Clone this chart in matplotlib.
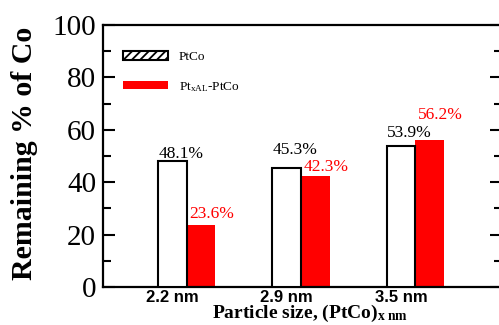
import matplotlib
matplotlib.use("Agg")
import matplotlib.pyplot as plt
from matplotlib.patches import Patch
import numpy as np

categories = ["2.2 nm", "2.9 nm", "3.5 nm"]
ptco = [48.1, 45.3, 53.9]
ptxal = [23.6, 42.3, 56.2]
ptco_labels = ["48.1%", "45.3%", "53.9%"]
ptxal_labels = ["23.6%", "42.3%", "56.2%"]
ptco_off = [1.1, 5.3, 3.4]
ptxal_off = [2.7, 1.9, 8.0]

plt.rcParams["font.family"] = ["Liberation Serif", "DejaVu Serif"]
plt.rcParams["mathtext.fontset"] = "custom"
plt.rcParams["mathtext.rm"] = "Liberation Serif"
plt.rcParams["mathtext.bf"] = "Liberation Serif:bold"
plt.rcParams["mathtext.it"] = "Liberation Serif:italic"
plt.rcParams["hatch.linewidth"] = 1.3

fig = plt.figure(figsize=(4.99, 3.25), dpi=100)
ax = fig.add_axes([103/499, 38/325, 399/499, 262/325])

x = np.arange(len(categories))
w = 0.25
ax.bar(x - w/2, ptco, w, color="white", edgecolor="black", linewidth=1.5, zorder=3)
ax.bar(x + w/2, ptxal, w, color="#ff0000", edgecolor="none", zorder=2)

for i in range(len(x)):
    ax.text(x[i] - w, ptco[i] + ptco_off[i], ptco_labels[i], ha="left", va="baseline",
            fontsize=12.5, color="black")
    ax.text(x[i] + 0.02, ptxal[i] + ptxal_off[i], ptxal_labels[i], ha="left", va="baseline",
            fontsize=12.5, color="#ff0000")

ax.set_xlim(-0.734, 2.76)
ax.set_ylim(0, 100)
ax.set_yticks([0, 20, 40, 60, 80, 100])
ax.set_yticks([10, 30, 50, 70, 90], minor=True)
ax.set_xticks(x - w/2)
ax.set_xticklabels(categories, fontsize=12, family=["Liberation Sans", "DejaVu Sans"],
                   fontweight="bold")
ax.tick_params(axis="x", length=0, pad=2)
ax.tick_params(axis="y", which="major", direction="in", length=8.6, width=1.5,
               right=True, labelsize=21, pad=5)
ax.tick_params(axis="y", which="minor", direction="in", length=5.5, width=1.5, right=True)
for s in ax.spines.values():
    s.set_linewidth(1.6)

fig.text(25/499, (325-153)/325, "Remaining % of Co", rotation=90, ha="center", va="center",
         fontsize=21.5, fontweight="bold")
fig.text(310/499, (325-313)/325, r"Particle size, (PtCo)$_{\mathbf{x\ nm}}$", ha="center",
         va="center", fontsize=14, fontweight="bold")

handles = [Patch(facecolor="white", edgecolor="black", hatch="////", linewidth=1.5),
           Patch(facecolor="#ff0000", edgecolor="none")]
labels = ["PtCo", r"Pt$_{\mathregular{xAL}}$-PtCo"]
leg = ax.legend(handles, labels, loc="upper left", bbox_to_anchor=(0.037, 0.92),
                frameon=False, borderaxespad=0, handlelength=3.44, handleheight=0.64,
                labelspacing=1.25, handletextpad=0.8, prop={"size": 9.5})

fig.savefig("out.png", dpi=100)
